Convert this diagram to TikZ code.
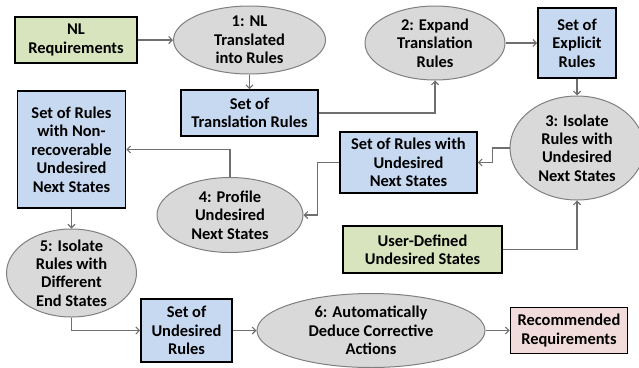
\documentclass[tikz,border=0pt]{standalone}
\usepackage{fontspec}
\setmainfont{Carlito}
\usetikzlibrary{shapes.geometric,arrows.meta}
\definecolor{boxgreen}{HTML}{D7E4BD}
\definecolor{boxblue}{HTML}{C6D9F1}
\definecolor{boxpink}{HTML}{F2DCDB}
\definecolor{stepgray}{HTML}{D9D9D9}
\definecolor{edgegray}{HTML}{7F7F7F}
\definecolor{linkgray}{HTML}{6F6F6F}
\tikzset{
  txt/.style={align=center, font=\bfseries\fontsize{16.5}{18.5}\selectfont, text=black},
  databox/.style={txt, draw=black, line width=1.8bp, rectangle, inner sep=0pt},
  greenbox/.style={databox, fill=boxgreen},
  bluebox/.style={databox, fill=boxblue},
  pinkbox/.style={databox, fill=boxpink},
  stepnode/.style={txt, ellipse, draw=edgegray, line width=1bp, fill=stepgray,
    inner xsep=-6bp, inner ysep=-12bp},
  link/.style={draw=linkgray, line width=1.1bp,
    -{Straight Barb[length=3.5bp,width=7bp]}},
}
\begin{document}
\begin{tikzpicture}[x=1bp,y=-1bp]
\useasboundingbox (0,0) rectangle (639,367);

% data sets
\node[greenbox, minimum width=122bp, minimum height=46bp] (nlreq) at (76,40) {NL\\Requirements};
\node[bluebox, minimum width=137bp, minimum height=46bp] (transl) at (249.5,113) {Set of\\Translation Rules};
\node[bluebox, minimum width=78bp, minimum height=70bp] (explicit) at (577,43) {Set of\\Explicit\\Rules};
\node[bluebox, minimum width=137bp, minimum height=61bp] (undes) at (408.5,162.5) {Set of Rules with\\Undesired\\Next States};
\node[bluebox, minimum width=108bp, minimum height=117bp] (nonrec) at (71.5,149.5) {Set of Rules\\with Non-\\recoverable\\Undesired\\Next States};
\node[bluebox, minimum width=91bp, minimum height=63bp] (undrules) at (186.5,330.5) {Set of\\Undesired\\Rules};
\node[pinkbox, minimum width=117bp, minimum height=46bp] (recreq) at (569,330.5) {Recommended\\Requirements};
\node[greenbox, minimum width=159bp, minimum height=47bp] (userdef) at (422.5,249.5) {User-Defined\\Undesired States};

% processing steps
\node[stepnode, minimum width=152bp, minimum height=68bp] (s1) at (249.5,40) {1: NL\\Translated\\into Rules};
\node[stepnode, minimum width=140bp, minimum height=74bp] (s2) at (435,43) {2: Expand\\Translation\\Rules};
\node[stepnode, minimum width=134bp, minimum height=104bp] (s3) at (577,148) {3: Isolate\\Rules with\\Undesired\\Next States};
\node[stepnode, minimum width=146bp, minimum height=75bp] (s4) at (230,215) {4: Profile\\Undesired\\Next States};
\node[stepnode, minimum width=130bp, minimum height=88bp] (s5) at (71.5,273) {5: Isolate\\Rules with\\Different\\End States};
\node[stepnode, minimum width=228bp, minimum height=74bp] (s6) at (371,330.5) {6: Automatically\\Deduce Corrective\\Actions};

% flow
\draw[link] (nlreq) -- (s1);
\draw[link] (s1.south) -- (transl.north);
\draw[link] (transl.east) -| (s2.south);
\draw[link] (s2) -- (explicit);
\draw[link] (explicit.south) -- (s3.north);
\draw[link] (s3.west) -- ++(-17,0) |- (undes.east);
\draw[link] (undes.west) -- ++(-22,0) |- (s4.east);
\draw[link] (s4.north) |- (nonrec.east);
\draw[link] (nonrec.south) -- (s5.north);
\draw[link] (s5.south) |- (undrules.west);
\draw[link] (undrules) -- (s6);
\draw[link] (s6) -- (recreq);
\draw[link] (userdef.east) -| (s3.south);
\end{tikzpicture}
\end{document}
